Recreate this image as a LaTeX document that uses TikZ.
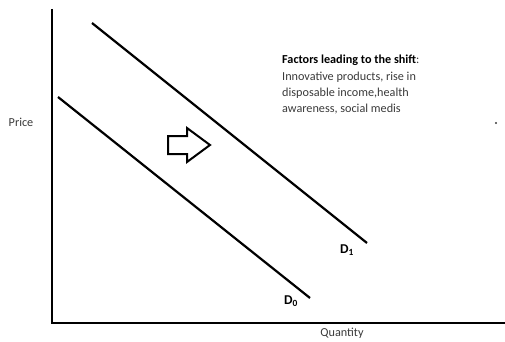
\documentclass[tikz,border=0pt]{standalone}
\usepackage{fontspec}
\setmainfont{Carlito}
\usetikzlibrary{positioning}
\definecolor{labelgrey}{HTML}{3A3A3A}

\begin{document}
\begin{tikzpicture}[x=1pt, y=-1pt, every node/.style={font=\fontsize{12.2}{16.3}\selectfont, text=labelgrey, inner sep=0pt}]
\useasboundingbox (0,0) rectangle (505,342);
% axes
\coordinate (origin) at (52,323);
\coordinate (ytop) at (52,9);
\coordinate (xend) at (505,323);
\draw[line width=2.3pt] (ytop) -- (origin) -- (xend);
\node (price) at (21,122) {Price};
\node (quantity) at (342,333) {Quantity};
% demand curves
\coordinate (d0start) at (58,97);
\coordinate (d0end) at (310,298);
\coordinate (d1start) at (92,23);
\coordinate (d1end) at (367,243);
\draw[line width=2.2pt] (d0start) -- (d0end);
\draw[line width=2.2pt] (d1start) -- (d1end);
\node[font=\fontsize{13.5}{15}\selectfont\bfseries, text=black] (d0) at (291,301) {D\textsubscript{0}};
\node[font=\fontsize{13.5}{15}\selectfont\bfseries, text=black] (d1) at (347,250) {D\textsubscript{1}};
% shift arrow
\coordinate (shift) at (168,145);
\draw[line width=2pt, line join=miter] (shift) ++(0,-9) -- ++(19,0) -- ++(0,-8) -- ++(23,17) -- ++(-23,17) -- ++(0,-8) -- ++(-19,0) -- cycle;
% factors
\node[anchor=north west, align=left] (factors) at (282,55) {{\bfseries\color{black}Factors leading to the shift}:\\Innovative products, rise in\\disposable income,health\\awareness, social medis};
\fill[labelgrey] (496,123) circle (1.2pt);
\end{tikzpicture}
\end{document}
